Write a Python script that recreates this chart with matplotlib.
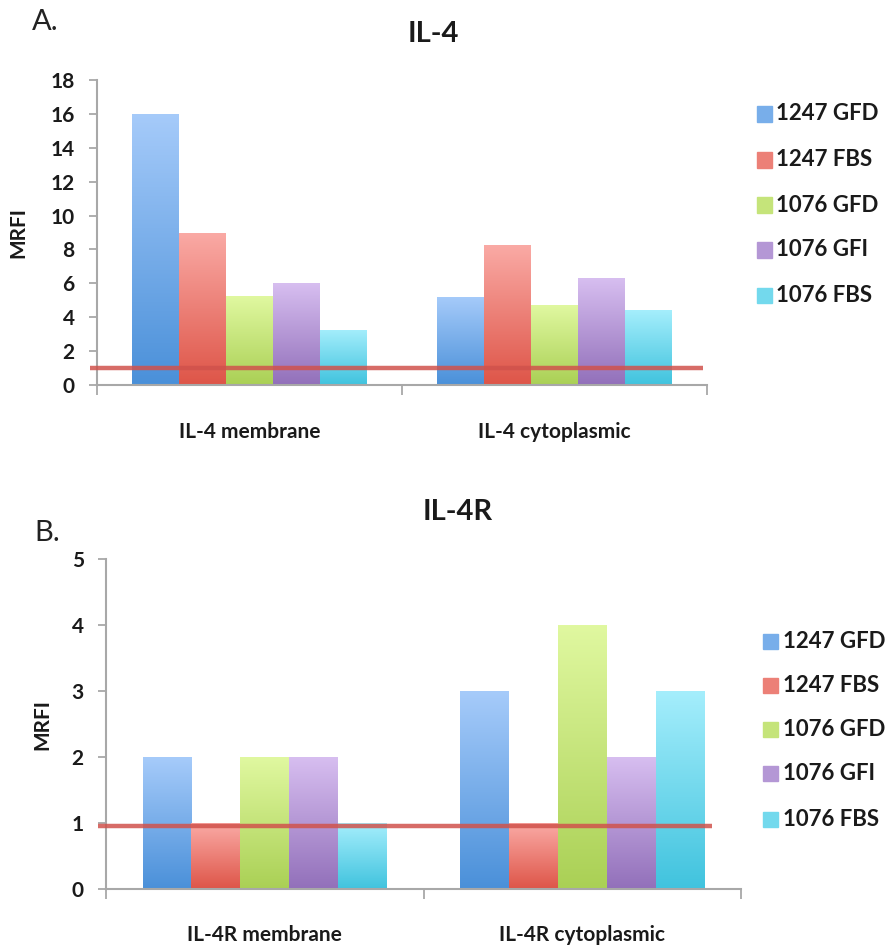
import numpy as np
import matplotlib
matplotlib.use("Agg")
import matplotlib.pyplot as plt
from matplotlib.patches import Rectangle
from matplotlib.colors import to_rgb

plt.rcParams['font.family'] = ['Lato', 'DejaVu Sans']

series = ["1247 GFD", "1247 FBS", "1076 GFD", "1076 GFI", "1076 FBS"]
top_colors = ["#A6CBFA", "#FAAAA5", "#E0F8A0", "#D7BEF0", "#A5EEFC"]
bot_colors = ["#4A90D9", "#DE5548", "#AAD055", "#9270BA", "#40C3DE"]

il4_categories = ["IL-4 membrane", "IL-4 cytoplasmic"]
il4_values = {
    "1247 GFD": [16.0, 5.2],
    "1247 FBS": [9.0, 8.25],
    "1076 GFD": [5.25, 4.7],
    "1076 GFI": [6.0, 6.3],
    "1076 FBS": [3.25, 4.4],
}
il4_threshold = 1.0
il4_yticks = [0, 2, 4, 6, 8, 10, 12, 14, 16, 18]

il4r_categories = ["IL-4R membrane", "IL-4R cytoplasmic"]
il4r_values = {
    "1247 GFD": [2, 3],
    "1247 FBS": [1, 1],
    "1076 GFD": [2, 4],
    "1076 GFI": [2, 2],
    "1076 FBS": [1, 3],
}
il4r_threshold = 0.95
il4r_yticks = [0, 1, 2, 3, 4, 5]

W, H = 888, 949
fig = plt.figure(figsize=(W / 100, H / 100), dpi=100)

def fx(px):
    return px / W

def fy(py):
    return 1 - py / H

GRAY = "#A8A8A8"
TXT = "#1A1A1A"

def panel(rect, cats, values, thr, yticks, ylabel_x, tick_fs, line_x, xlab_pad):
    ax = fig.add_axes(rect)
    x = np.arange(len(cats))
    bw = 0.154
    for i, s in enumerate(series):
        bars = ax.bar(x + (i - 2) * bw, values[s], width=bw, color="none",
                      edgecolor="none", zorder=2)
        c_top = np.array(to_rgb(top_colors[i]))
        c_bot = np.array(to_rgb(bot_colors[i]))
        t = np.linspace(0, 1, 200)[:, None]
        grad = (c_top * (1 - t) + c_bot * t)[:, None, :]
        for b in bars:
            im = ax.imshow(grad, extent=(b.get_x(), b.get_x() + b.get_width(),
                                         0, b.get_height()),
                           aspect="auto", origin="upper", zorder=2,
                           interpolation="bilinear")
            im.set_clip_path(b)
    ax.set_xlim(-0.5, len(cats) - 0.5)
    ax.set_ylim(yticks[0], yticks[-1])
    ax.plot(line_x, [thr, thr], color="#D0524C", lw=3.2, alpha=0.85,
            zorder=3, clip_on=False, solid_capstyle="butt")
    for sp in ["top", "right"]:
        ax.spines[sp].set_visible(False)
    for sp in ["left", "bottom"]:
        ax.spines[sp].set_color(GRAY)
        ax.spines[sp].set_linewidth(1.5)
    ax.set_yticks(yticks, labels=[str(v) for v in yticks],
                  fontweight="bold", fontsize=tick_fs, color=TXT)
    ax.tick_params(axis="y", colors=GRAY, length=6, width=1.3, pad=10,
                   labelcolor=TXT)
    ax.set_xticks(x, labels=cats, fontsize=15, fontweight="bold", color=TXT)
    ax.set_xticks(np.arange(len(cats) + 1) - 0.5, minor=True)
    ax.tick_params(axis="x", which="major", length=0, pad=xlab_pad)
    ax.tick_params(axis="x", which="minor", colors=GRAY, length=7, width=1.3,
                   direction="out")
    ax.set_ylabel("MRFI", fontsize=15, fontweight="bold", color=TXT)
    ax.yaxis.set_label_coords(ylabel_x, 0.5)
    return ax

# Panel A
panel([fx(97), fy(385), fx(707) - fx(97), fy(80) - fy(385)],
      il4_categories, il4_values, il4_threshold, il4_yticks, -0.113, 15,
      [-0.523, 1.487], 27)
fig.text(fx(433), fy(34), "IL-4", ha="center", va="center",
         fontsize=21, fontweight="bold", color=TXT)
fig.text(fx(32), fy(22), "A.", ha="left", va="center", fontsize=21,
         color="#222222")

# Panel B
panel([fx(106), fy(889), fx(741) - fx(106), fy(559) - fy(889)],
      il4r_categories, il4r_values, il4r_threshold, il4r_yticks, -0.085, 15,
      [-0.525, 1.409], 26)
fig.text(fx(458), fy(512), "IL-4R", ha="center", va="center",
         fontsize=21, fontweight="bold", color=TXT)
fig.text(fx(34), fy(533), "B.", ha="left", va="center", fontsize=21,
         color="#222222")

def legend(sq_x, text_x, ys):
    sq = 15
    for i, s in enumerate(series):
        y = ys[i]
        c = (np.array(to_rgb(top_colors[i])) + np.array(to_rgb(bot_colors[i]))) / 2
        fig.add_artist(Rectangle((fx(sq_x), fy(y + sq / 2)), sq / W, sq / H,
                                 transform=fig.transFigure, color=c))
        fig.text(fx(text_x), fy(y), s, ha="left", va="center", fontsize=16,
                 fontweight="bold", color=TXT)

legend(757, 776, [114, 160, 205, 250, 295])
legend(763, 783, [641, 685, 729, 773, 819])

fig.savefig("out.png", dpi=100)
